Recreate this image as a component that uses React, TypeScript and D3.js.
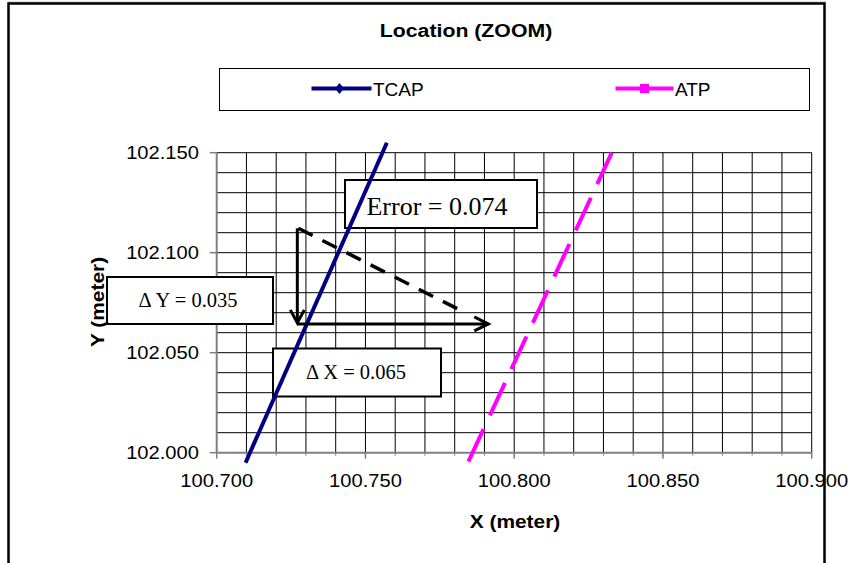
import React from "react";
import * as d3 from "d3";

// ---- data ----
const xTicks = [100.7, 100.75, 100.8, 100.85, 100.9];
const yTicks = [102.0, 102.05, 102.1, 102.15];
const xGrid = d3.range(1, 21).map((i) => 100.7 + i * 0.01);
const yGrid = d3.range(1, 16).map((i) => 102.0 + i * 0.01);

const tcapX = [100.7097, 100.7572];
const tcapY = [101.995, 102.155];
const atpX = [100.7846, 100.8328];
const atpY = [101.9955, 102.15];

// annotation geometry in data units
const arrowX0 = [100.7271];
const arrowY = [102.1122, 102.0644];
const arrowX1 = [100.7913];
const dashEnd = [100.7830, 102.0704];

const SANS = "'Liberation Sans', Arial, sans-serif";
const SERIF = "'Liberation Serif', 'Times New Roman', serif";

function T({ x, y, sx = 1.08, anchor = "start", size = 18, bold = false, family = SANS, children, rotate = 0 }: any) {
  return (
    <text
      transform={`translate(${x},${y}) rotate(${rotate}) scale(${sx},1)`}
      textAnchor={anchor}
      fontSize={size}
      fontWeight={bold ? "bold" : "normal"}
      fontFamily={family}
      fill="#000"
    >
      {children}
    </text>
  );
}

export default function App() {
  const x = d3.scaleLinear().domain([100.7, 100.9]).range([216.7, 811.7]);
  const y = d3.scaleLinear().domain([102.0, 102.15]).range([452.7, 152.7]);
  const line = d3.line<[number, number]>().x((d) => x(d[0])).y((d) => y(d[1]));
  const tcap = line(tcapX.map((v, i) => [v, tcapY[i]]) as [number, number][]) || "";
  const atp = line(atpX.map((v, i) => [v, atpY[i]]) as [number, number][]) || "";
  const [x0, x1] = x.range();
  const [y0, y1] = y.range();
  const fmt = d3.format(".3f");

  const ax = x(arrowX0[0]);
  const ayTop = y(arrowY[0]);
  const ayBot = y(arrowY[1]);
  const axEnd = x(arrowX1[0]);

  return (
    <svg
      width={851}
      height={563}
      style={{ position: "absolute", left: 0, top: 0, background: "#fff" }}
    >
      <rect x={0} y={0} width={851} height={563} fill="#fff" />
      {/* title */}
      <T x={466} y={37} anchor="middle" size={19} bold sx={1.12}>
        Location (ZOOM)
      </T>
      {/* legend */}
      <rect x={219.5} y={68.5} width={590} height={42} fill="#fff" stroke="#000" strokeWidth={1} />
      <line x1={311.5} x2={371.5} y1={88.5} y2={88.5} stroke="#000080" strokeWidth={4} />
      <path d="M339.5,83 L344,88.5 L339.5,94 L335,88.5 Z" fill="#000080" />
      <T x={373} y={96} size={19} sx={1.0}>
        TCAP
      </T>
      <line x1={615.5} x2={673.5} y1={88.5} y2={88.5} stroke="#FF00FF" strokeWidth={4} />
      <rect x={640} y={84} width={9} height={9} fill="#FF00FF" />
      <T x={675} y={96} size={19} sx={1.0}>
        ATP
      </T>

      {/* grid */}
      {xGrid.map((v, i) => (
        <line key={"xg" + i} x1={x(v)} x2={x(v)} y1={y0} y2={y1} stroke="#000" strokeWidth={1} />
      ))}
      {yGrid.map((v, i) => (
        <line key={"yg" + i} x1={x0} x2={x1} y1={y(v)} y2={y(v)} stroke="#000" strokeWidth={1} />
      ))}

      {/* axes */}
      <line x1={x0} x2={x1} y1={y0} y2={y0} stroke="#808080" strokeWidth={2} />
      <line x1={x0} x2={x0} y1={y0} y2={y1} stroke="#808080" strokeWidth={2} />
      {xGrid.map((v, i) => (
        <line key={"xm" + i} x1={x(v)} x2={x(v)} y1={y0} y2={y0 + 3} stroke="#808080" strokeWidth={1} />
      ))}
      {xTicks.map((v, i) => (
        <g key={"xt" + i}>
          <line x1={x(v)} x2={x(v)} y1={y0} y2={y0 + 6} stroke="#808080" strokeWidth={1.5} />
          <T x={x(v)} y={487} anchor="middle" size={18} sx={1.12}>
            {fmt(v)}
          </T>
        </g>
      ))}
      {yTicks.map((v, i) => (
        <g key={"yt" + i}>
          <line x1={x0 - 7} x2={x0} y1={y(v)} y2={y(v)} stroke="#808080" strokeWidth={1.5} />
          <T x={199} y={y(v) + 6.5} anchor="end" size={18} sx={1.12}>
            {fmt(v)}
          </T>
        </g>
      ))}

      {/* annotation boxes */}
      <rect x={345} y={180} width={192} height={48} fill="#fff" stroke="#000" strokeWidth={2} />
      <T x={437} y={215} anchor="middle" size={26} sx={1} family={SERIF}>
        Error = 0.074
      </T>
      <rect x={107} y={277} width={166} height={47} fill="#fff" stroke="#000" strokeWidth={2} />
      <T x={188} y={307} anchor="middle" size={20.5} sx={1} family={SERIF}>
        Δ Y = 0.035
      </T>
      <rect x={273} y={348.5} width={168} height={48} fill="#fff" stroke="#000" strokeWidth={2} />
      <T x={356} y={378.5} anchor="middle" size={20.5} sx={1} family={SERIF}>
        Δ X = 0.065
      </T>

      {/* series */}
      <path d={tcap} fill="none" stroke="#000080" strokeWidth={4} />
      <path d={atp} fill="none" stroke="#FF00FF" strokeWidth={4} strokeDasharray="36 15" />

      {/* arrows */}
      <line x1={ax} x2={ax} y1={ayTop} y2={ayBot - 1} stroke="#000" strokeWidth={3} />
      <polyline
        points={`${ax - 7},${ayBot - 14} ${ax},${ayBot - 1} ${ax + 7},${ayBot - 14}`}
        fill="none"
        stroke="#000"
        strokeWidth={3}
      />
      <line x1={ax} x2={axEnd} y1={ayBot} y2={ayBot} stroke="#000" strokeWidth={3} />
      <polyline
        points={`${axEnd - 14},${ayBot - 7} ${axEnd},${ayBot} ${axEnd - 14},${ayBot + 7}`}
        fill="none"
        stroke="#000"
        strokeWidth={3}
      />
      <line
        x1={ax + 1}
        y1={ayTop}
        x2={x(dashEnd[0])}
        y2={y(dashEnd[1])}
        stroke="#000"
        strokeWidth={3.5}
        strokeDasharray="16 11"
      />

      {/* axis titles */}
      <T x={515} y={528} anchor="middle" size={19} bold sx={1.1}>
        X (meter)
      </T>
      <T x={104} y={302} anchor="middle" size={19} bold sx={1.1} rotate={-90}>
        Y (meter)
      </T>

      {/* outer frame */}
      <line x1={8} x2={826} y1={2} y2={2} stroke="#b0b0b0" strokeWidth={1} />
      <rect x={8.5} y={3.5} width={816} height={600} fill="none" stroke="#000" strokeWidth={2.5} />
    </svg>
  );
}
